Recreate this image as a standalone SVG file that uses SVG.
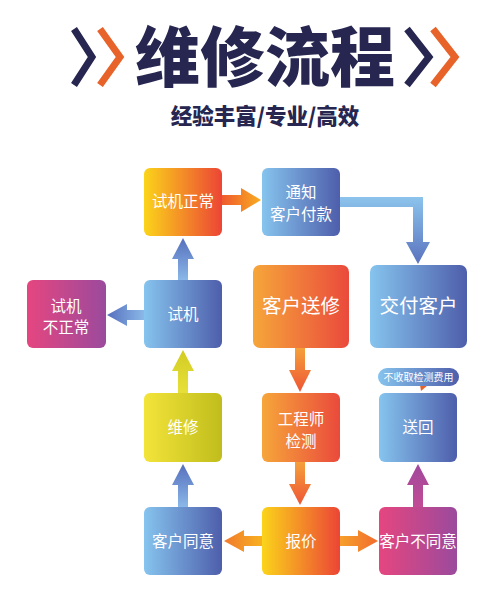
<svg xmlns="http://www.w3.org/2000/svg" width="500" height="600" viewBox="0 0 500 600">
<defs>
<linearGradient id="gBlue" x1="0" y1="0" x2="1" y2="0"><stop offset="0" stop-color="#86c4ee"/><stop offset="1" stop-color="#4e5eab"/></linearGradient>
<linearGradient id="gYR" x1="0" y1="0" x2="1" y2="0"><stop offset="0" stop-color="#fbd41a"/><stop offset="1" stop-color="#ec4535"/></linearGradient>
<linearGradient id="gOR" x1="0" y1="0" x2="1" y2="0"><stop offset="0" stop-color="#f6a63a"/><stop offset="1" stop-color="#ea4a3c"/></linearGradient>
<linearGradient id="gPk" x1="0" y1="0" x2="1" y2="0"><stop offset="0" stop-color="#e5467f"/><stop offset="1" stop-color="#9b4a9d"/></linearGradient>
<linearGradient id="gYG" x1="0" y1="0" x2="1" y2="0"><stop offset="0" stop-color="#f3e43a"/><stop offset="1" stop-color="#c0bd1c"/></linearGradient>
<linearGradient id="aR1" x1="0" y1="0" x2="1" y2="0"><stop offset="0" stop-color="#ef5a2e"/><stop offset="1" stop-color="#f8ac20"/></linearGradient>
<linearGradient id="aL" x1="1" y1="0" x2="0" y2="0"><stop offset="0" stop-color="#f8b020"/><stop offset="1" stop-color="#f07a2c"/></linearGradient>
<linearGradient id="aR2" x1="0" y1="0" x2="1" y2="0"><stop offset="0" stop-color="#f6a02a"/><stop offset="1" stop-color="#f26b2e"/></linearGradient>
<linearGradient id="aDn" x1="0" y1="0" x2="0" y2="1"><stop offset="0" stop-color="#f5a03a"/><stop offset="1" stop-color="#ee5535"/></linearGradient>
<linearGradient id="aUpB" x1="0" y1="1" x2="0" y2="0"><stop offset="0" stop-color="#8ab8e8"/><stop offset="1" stop-color="#566fbd"/></linearGradient>
<linearGradient id="aLB" x1="1" y1="0" x2="0" y2="0"><stop offset="0" stop-color="#8ab8e8"/><stop offset="1" stop-color="#566fbd"/></linearGradient>
<linearGradient id="aDnB" x1="0" y1="0" x2="0" y2="1"><stop offset="0" stop-color="#8cc4ec"/><stop offset="1" stop-color="#5a72be"/></linearGradient>
<linearGradient id="aUpY" x1="0" y1="1" x2="0" y2="0"><stop offset="0" stop-color="#e8e03a"/><stop offset="1" stop-color="#d2cc22"/></linearGradient>
<linearGradient id="aUpP" x1="0" y1="1" x2="0" y2="0"><stop offset="0" stop-color="#c24c95"/><stop offset="1" stop-color="#a0489c"/></linearGradient>
</defs>
<style>
.t{font-family:"Noto Sans CJK SC","Noto Sans",sans-serif;fill:#fff;text-anchor:middle;font-size:15.5px}
.tl{font-size:19.5px}
.title{font-family:"Noto Sans CJK SC",sans-serif;font-weight:900;fill:#262650;text-anchor:middle}
.chev{fill:none;stroke-width:7;stroke-linejoin:miter}
</style>
<rect width="500" height="600" fill="#fff"/>

<g id="title">
<polyline class="chev" stroke="#262650" points="74,29 92,57 74,85"/>
<polyline class="chev" stroke="#e8632a" points="100,29 120,57 100,85"/>
<polyline class="chev" stroke="#262650" points="407,29 429,57 407,85"/>
<polyline class="chev" stroke="#e8632a" points="433,29 455,57 433,85"/>
<text class="title" x="265" y="81" font-size="65">维修流程</text>
<text class="title" x="265" y="124" font-size="21.5" font-weight="700">经验丰富/专业/高效</text>
</g>

<g id="connectors">
<polygon fill="url(#aR1)" points="222,195 241,195 241,188 261,200 241,212 241,205 222,205"/>
<path fill="url(#aDnB)" d="M340,197 H423 V242 H430 L418,264 L406,242 H413 V207 H340 Z"/>
<polygon fill="url(#aUpB)" points="178,280 178,259 172,259 183,238 194,259 188,259 188,280"/>
<polygon fill="url(#aLB)" points="144,310 127,310 127,304 107,315 127,326 127,320 144,320"/>
<polygon fill="url(#aDn)" points="295,348 295,370 289,370 300,392 311,370 305,370 305,348"/>
<polygon fill="url(#aDn)" points="295,462 295,484 289,484 300,505 311,484 305,484 305,462"/>
<polygon fill="url(#aUpY)" points="178,393 178,371 172,371 183,350 194,371 188,371 188,393"/>
<polygon fill="url(#aUpB)" points="178,507 178,485 172,485 183,464 194,485 188,485 188,507"/>
<polygon fill="url(#aL)" points="262,536 244,536 244,530 224,541 244,552 244,546 262,546"/>
<polygon fill="url(#aR2)" points="340,536 358,536 358,530 378,541 358,552 358,546 340,546"/>
<polygon fill="url(#aUpP)" points="413,507 413,485 407,485 418,464 429,485 423,485 423,507"/>
</g>

<g id="n-shiji-zhengchang"><rect x="144" y="168" width="78" height="68" rx="6" fill="url(#gYR)"/><text class="t" x="183" y="207">试机正常</text></g>
<g id="n-tongzhi"><rect x="262" y="168" width="78" height="68" rx="6" fill="url(#gBlue)"/><text class="t" x="301" y="198">通知</text><text class="t" x="301" y="220">客户付款</text></g>
<g id="n-bu-zhengchang"><rect x="27" y="280" width="79" height="68" rx="6" fill="url(#gPk)"/><text class="t" x="66" y="312">试机</text><text class="t" x="66" y="333">不正常</text></g>
<g id="n-shiji"><rect x="144" y="280" width="78" height="68" rx="6" fill="url(#gBlue)"/><text class="t" x="183" y="320">试机</text></g>
<g id="n-songxiu"><rect x="253" y="265" width="96" height="83" rx="7" fill="url(#gOR)"/><text class="t tl" x="301" y="313">客户送修</text></g>
<g id="n-jiaofu"><rect x="370" y="265" width="97" height="83" rx="7" fill="url(#gBlue)"/><text class="t tl" x="418.5" y="313">交付客户</text></g>
<g id="n-weixiu"><rect x="144" y="393" width="78" height="69" rx="6" fill="url(#gYG)"/><text class="t" x="183" y="433">维修</text></g>
<g id="n-jiance"><rect x="262" y="393" width="78" height="69" rx="6" fill="url(#gOR)"/><text class="t" x="301" y="425">工程师</text><text class="t" x="301" y="447">检测</text></g>
<g id="n-songhui"><rect x="379" y="393" width="78" height="69" rx="6" fill="url(#gBlue)"/><text class="t" x="418" y="433">送回</text></g>
<g id="n-bubble"><path d="M420,385 L428,385 L421,391 Z" fill="#e8632a"/><rect x="378" y="368" width="81" height="18" rx="9" fill="url(#gBlue)"/><text class="t" x="418.5" y="381" style="font-size:10px">不收取检测费用</text></g>
<g id="n-tongyi"><rect x="144" y="507" width="78" height="68" rx="6" fill="url(#gBlue)"/><text class="t" x="183" y="547">客户同意</text></g>
<g id="n-baojia"><rect x="262" y="507" width="78" height="68" rx="6" fill="url(#gYR)"/><text class="t" x="301" y="547">报价</text></g>
<g id="n-butongyi"><rect x="379" y="507" width="78" height="68" rx="6" fill="url(#gPk)"/><text class="t" x="418" y="547">客户不同意</text></g>
</svg>
